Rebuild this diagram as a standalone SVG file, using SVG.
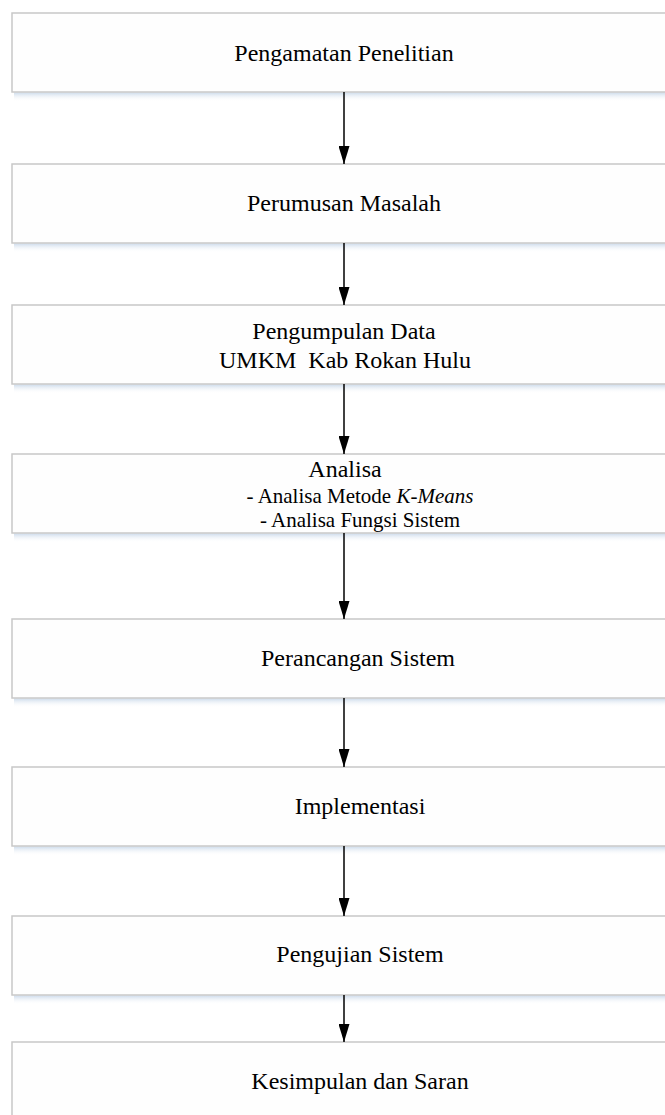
<svg xmlns="http://www.w3.org/2000/svg" width="665" height="1115" viewBox="0 0 665 1115">
<defs>
<linearGradient id="sh" x1="0" y1="0" x2="0" y2="1">
<stop offset="0" stop-color="#cddbeb"/>
<stop offset="1" stop-color="#ffffff" stop-opacity="0"/>
</linearGradient>
<marker id="ah" markerWidth="18" markerHeight="11" refX="18" refY="5.5" orient="auto" markerUnits="userSpaceOnUse" viewBox="0 0 18 11">
<path d="M0,0 L18,5.5 L0,11 Z" fill="#000"/>
</marker>
</defs>
<style>
.box{fill:#fefefe;stroke:#c8c8c8;stroke-width:1.5}
.shadow{fill:url(#sh)}
.t{font-family:"Liberation Serif","Times New Roman",serif;font-size:24px;fill:#000;text-anchor:middle}
.s{font-size:21px}
.conn line{stroke:#000;stroke-width:1.5}
</style>
<rect width="665" height="1115" fill="#fff"/>
<g id="n1"><rect class="shadow" x="14" y="92.5" width="660" height="9"/><rect class="box" x="12" y="13" width="660" height="79"/><text class="t" x="344" y="61">Pengamatan Penelitian</text></g>
<g id="n2"><rect class="shadow" x="14" y="243.5" width="660" height="9"/><rect class="box" x="12" y="164" width="660" height="79"/><text class="t" x="344" y="211">Perumusan Masalah</text></g>
<g id="n3"><rect class="shadow" x="14" y="384.5" width="660" height="9"/><rect class="box" x="12" y="305" width="660" height="79"/><text class="t" x="344" y="339">Pengumpulan Data</text><text class="t" x="345" y="368" xml:space="preserve">UMKM  Kab Rokan Hulu</text></g>
<g id="n4"><rect class="shadow" x="14" y="533.5" width="660" height="9"/><rect class="box" x="12" y="454" width="660" height="79"/><text class="t" x="345" y="477">Analisa</text><text class="t s" x="360" y="503">- Analisa Metode <tspan font-style="italic">K-Means</tspan></text><text class="t s" x="360" y="527">- Analisa Fungsi Sistem</text></g>
<g id="n5"><rect class="shadow" x="14" y="698.5" width="660" height="9"/><rect class="box" x="12" y="619" width="660" height="79"/><text class="t" x="358" y="666">Perancangan Sistem</text></g>
<g id="n6"><rect class="shadow" x="14" y="846.5" width="660" height="9"/><rect class="box" x="12" y="767" width="660" height="79"/><text class="t" x="360" y="814">Implementasi</text></g>
<g id="n7"><rect class="shadow" x="14" y="995.5" width="660" height="9"/><rect class="box" x="12" y="916" width="660" height="79"/><text class="t" x="360" y="962">Pengujian Sistem</text></g>
<g id="n8"><rect class="box" x="12" y="1042" width="660" height="90"/><text class="t" x="360" y="1089">Kesimpulan dan Saran</text></g>
<g class="conn" id="connectors">
<line x1="344" y1="92" x2="344" y2="164" marker-end="url(#ah)"/>
<line x1="344" y1="243" x2="344" y2="305" marker-end="url(#ah)"/>
<line x1="344" y1="384" x2="344" y2="454" marker-end="url(#ah)"/>
<line x1="344" y1="533" x2="344" y2="619" marker-end="url(#ah)"/>
<line x1="344" y1="698" x2="344" y2="767" marker-end="url(#ah)"/>
<line x1="344" y1="846" x2="344" y2="916" marker-end="url(#ah)"/>
<line x1="344" y1="995" x2="344" y2="1042" marker-end="url(#ah)"/>
</g>
</svg>
